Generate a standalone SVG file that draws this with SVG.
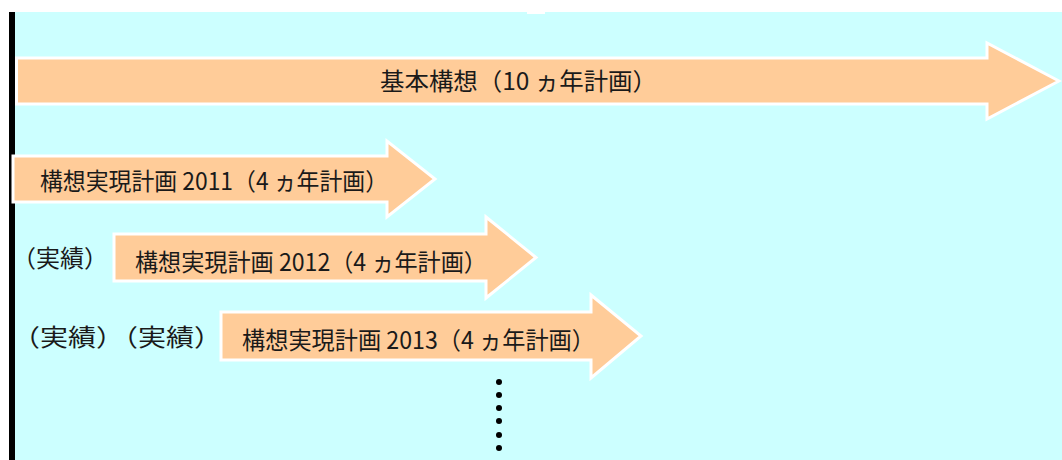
<svg xmlns="http://www.w3.org/2000/svg" width="1062" height="460" viewBox="0 0 1062 460">
<defs>
<style>
.arrow{fill:#FFCC99;stroke:#FFFFFF;stroke-width:3;stroke-linejoin:miter}
.t{font-family:"Noto Sans CJK JP","Noto Sans CJK SC",sans-serif;font-size:24px;fill:#1a1a1a}
.dot{fill:#000000}
</style>
</defs>
<rect x="0" y="0" width="1062" height="460" fill="#FFFFFF"/>
<rect x="15" y="12" width="1047" height="448" fill="#CCFFFF"/>
<rect x="527" y="12" width="18" height="2" fill="#FFFFFF"/>
<rect x="9" y="12" width="6" height="448" fill="#000000"/>
<g id="connectors">
<g id="dots">
<circle class="dot" cx="499" cy="382" r="3"/>
<circle class="dot" cx="499" cy="395" r="3"/>
<circle class="dot" cx="499" cy="408" r="3"/>
<circle class="dot" cx="499" cy="421" r="3"/>
<circle class="dot" cx="499" cy="435" r="3"/>
<circle class="dot" cx="499" cy="448" r="3"/>
</g>
</g>
<g id="kihon">
<polygon class="arrow" points="16.5,58 987,58 987,43 1059,81 987,119 987,104 16.5,104"/>
<text class="t" x="380" y="90" textLength="277" lengthAdjust="spacingAndGlyphs">基本構想（10 ヵ年計画）</text>
</g>
<g id="plan2011">
<polygon class="arrow" points="13,156 387,156 387,141 435,179 387,217 387,202 13,202"/>
<text class="t" x="40" y="190" textLength="348" lengthAdjust="spacingAndGlyphs">構想実現計画 2011（4 ヵ年計画）</text>
</g>
<g id="jisseki1">
<text class="t" x="12" y="267" textLength="96" lengthAdjust="spacingAndGlyphs">（実績）</text>
</g>
<g id="plan2012">
<polygon class="arrow" points="114,234 486,234 486,217 536,257.5 486,298 486,281 114,281"/>
<text class="t" x="135" y="271" textLength="352" lengthAdjust="spacingAndGlyphs">構想実現計画 2012（4 ヵ年計画）</text>
</g>
<g id="jisseki2">
<text class="t" x="12" y="346" textLength="210" lengthAdjust="spacingAndGlyphs">（実績）（実績）</text>
</g>
<g id="plan2013">
<polygon class="arrow" points="221,312 591,312 591,295 641,336 591,378 591,360 221,360"/>
<text class="t" x="242" y="349" textLength="353" lengthAdjust="spacingAndGlyphs">構想実現計画 2013（4 ヵ年計画）</text>
</g>
</svg>
